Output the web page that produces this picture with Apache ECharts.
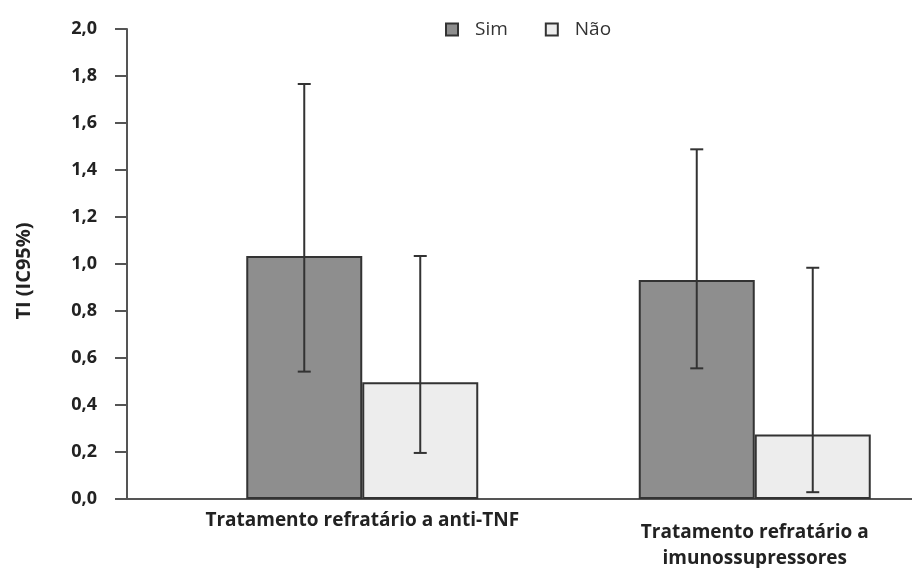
<!DOCTYPE html>
<html>
<head>
<meta charset="utf-8">
<script src="https://cdn.jsdelivr.net/npm/echarts@6/dist/echarts.min.js"></script>
<style>
  html, body { margin: 0; padding: 0; background: #ffffff; }
  #chart { width: 912px; height: 568px; }
</style>
</head>
<body>
<div id="chart"></div>
<script>
// ---- Data ----
const categories = ['Tratamento refratário a anti-TNF', 'Tratamento refratário a\nimunossupressores'];
const seriesNames = ['Sim', 'Não'];
const simValues = [1.034, 0.932];
const naoValues = [0.497, 0.275];
const simLow = [0.542, 0.556];
const simHigh = [1.766, 1.488];
const naoLow = [0.196, 0.029];
const naoHigh = [1.034, 0.984];

// ---- Styles ----
const FONT = '"Open Sans"';
const BAR_W = 116;
const simColor = '#8e8e8e';
const naoColor = '#ededed';
const edge = '#333333';

function errData(lows, highs) {
  return categories.map((c, i) => [i, lows[i], highs[i]]);
}

function errRender(offset) {
  return function (params, api) {
    const lo = api.coord([api.value(0), api.value(1)]);
    const hi = api.coord([api.value(0), api.value(2)]);
    const x = lo[0] + offset;
    const cap = 6.5;
    const style = { stroke: edge, lineWidth: 2 };
    return {
      type: 'group',
      children: [
        { type: 'line', shape: { x1: x, y1: lo[1], x2: x, y2: hi[1] }, style: style },
        { type: 'line', shape: { x1: x - cap, y1: lo[1], x2: x + cap, y2: lo[1] }, style: style },
        { type: 'line', shape: { x1: x - cap, y1: hi[1], x2: x + cap, y2: hi[1] }, style: style }
      ]
    };
  };
}

const chart = echarts.init(document.getElementById('chart'), null, { renderer: 'canvas' });

const option = {
  backgroundColor: '#ffffff',
  animation: false,
  textStyle: { fontFamily: FONT },
  legend: {
    data: seriesNames,
    left: 440,
    top: 15,
    itemWidth: 12,
    itemHeight: 12,
    itemGap: 37,
    icon: 'rect',
    textStyle: { fontFamily: FONT, fontSize: 19, color: '#333', padding: [0, 0, 0, 12] }
  },
  grid: [
    { left: 166, width: 785, top: 29, bottom: 69, containLabel: false, outerBoundsMode: 'none' },
    { left: 127, right: 0, top: 29, bottom: 69, containLabel: false, outerBoundsMode: 'none' }
  ],
  xAxis: [
    {
      type: 'category',
      gridIndex: 0,
      data: categories,
      axisLine: { show: false },
      axisTick: { show: false },
      axisLabel: {
        margin: 10,
        interval: 0,
        color: '#222',
        hideOverlap: false,
        formatter: function (v, i) {
          if (i === 0) return '{a|' + v + '}';
          return '{s| }\n' + v.split('\n').map(s => '{b|' + s + '}').join('\n');
        },
        rich: {
          a: { fontFamily: FONT, fontSize: 19, fontWeight: 'bold', color: '#222', lineHeight: 24 },
          b: { fontFamily: FONT, fontSize: 19, fontWeight: 'bold', color: '#222', lineHeight: 26 },
          s: { fontSize: 4, lineHeight: 11 }
        }
      }
    },
    {
      type: 'value',
      gridIndex: 1,
      min: 0,
      max: 1,
      axisLine: { show: true, lineStyle: { color: '#555', width: 2 } },
      axisTick: { show: false },
      axisLabel: { show: false },
      splitLine: { show: false }
    }
  ],
  yAxis: [
    {
      type: 'value',
      gridIndex: 0,
      min: 0,
      max: 2,
      interval: 0.2,
      offset: 39,
      name: 'TI (IC95%)',
      nameLocation: 'middle',
      nameGap: 93,
      nameRotate: 90,
      nameTextStyle: { fontFamily: FONT, fontSize: 20, fontWeight: 'bold', color: '#222', padding: [0, 0, 0, -14] },
      axisLine: { show: true, lineStyle: { color: '#555', width: 2 } },
      axisTick: { show: true, inside: false, length: 12, lineStyle: { color: '#555', width: 2 } },
      splitLine: { show: false },
      axisLabel: {
        margin: 30,
        color: '#222',
        fontFamily: FONT,
        fontSize: 18,
        fontWeight: 'bold',
        formatter: function (v) { return v.toFixed(1).replace('.', ','); }
      }
    },
    { type: 'value', gridIndex: 1, min: 0, max: 1, show: false }
  ],
  series: [
    {
      name: 'Sim', type: 'bar', xAxisIndex: 0, yAxisIndex: 0,
      data: simValues, barWidth: BAR_W, barGap: '0%',
      itemStyle: { color: simColor, borderColor: edge, borderWidth: 2 }
    },
    {
      name: 'Não', type: 'bar', xAxisIndex: 0, yAxisIndex: 0,
      data: naoValues, barWidth: BAR_W, barGap: '0%',
      itemStyle: { color: naoColor, borderColor: edge, borderWidth: 2 }
    },
    {
      name: 'errSim', type: 'custom', xAxisIndex: 0, yAxisIndex: 0,
      data: errData(simLow, simHigh), encode: { x: 0, y: [1, 2] },
      renderItem: errRender(-BAR_W / 2), z: 5
    },
    {
      name: 'errNao', type: 'custom', xAxisIndex: 0, yAxisIndex: 0,
      data: errData(naoLow, naoHigh), encode: { x: 0, y: [1, 2] },
      renderItem: errRender(BAR_W / 2), z: 5
    }
  ]
};
chart.setOption(option);
</script>
</body>
</html>
